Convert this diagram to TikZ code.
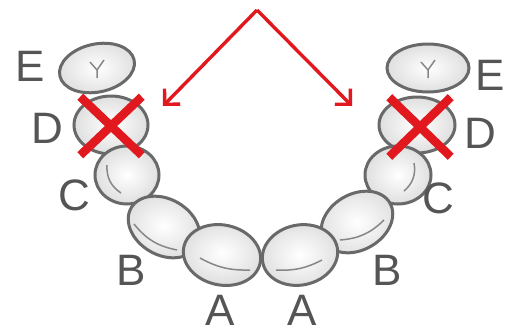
\documentclass[tikz,border=0pt]{standalone}
\usepackage{fontspec}
\setmainfont{Liberation Sans}
\usetikzlibrary{shapes.geometric,shapes.misc,arrows.meta}
\definecolor{toothline}{RGB}{105,105,105}
\definecolor{labelgray}{RGB}{85,85,85}
\definecolor{markred}{RGB}{225,25,30}
\tikzset{
  tooth/.style={ellipse,draw=toothline,line width=3pt,inner sep=0pt,shading=radial,inner color=white,outer color=gray!25},
  letter/.style={text=labelgray,font=\fontsize{44}{44}\selectfont,inner sep=0pt},
  pointer/.style={draw=markred,line width=3.4pt,-{Straight Barb[length=11pt,width=22pt]}},
  nope/.style={cross out,draw=markred,line width=8.5pt,inner sep=0pt},
  groove/.style={draw=toothline!80,line width=1.5pt}
}
\begin{document}
\begin{tikzpicture}[x=1pt,y=-1pt]
      \useasboundingbox (0,0) rectangle (506,333);

      % teeth, left half
      \begin{scope}[every node/.style={tooth}]
        \node (E1) at (97,68)   [minimum width=76,minimum height=48,rotate=12] {};
        \node (D1) at (111,125) [minimum width=74,minimum height=58] {};
        \node (C1) at (127,175) [minimum width=64,minimum height=58] {};
        \node (B1) at (164,227) [minimum width=76,minimum height=56,rotate=-30] {};
        \node (A1) at (222,255) [minimum width=78,minimum height=60,rotate=-12] {};
      \end{scope}

      % teeth, right half
      \begin{scope}[every node/.style={tooth}]
        \node (E2) at (428,68)  [minimum width=82,minimum height=48] {};
        \node (D2) at (417,125) [minimum width=76,minimum height=56] {};
        \node (C2) at (398,175) [minimum width=66,minimum height=58] {};
        \node (B2) at (357,222) [minimum width=76,minimum height=56,rotate=30] {};
        \node (A2) at (300,255) [minimum width=76,minimum height=60,rotate=12] {};
      \end{scope}

      % grooves
      \draw[groove] (107,165) to[bend right=30] (121,193);
      \draw[groove] (134,224) to[bend right=20] (177,250);
      \draw[groove] (200,258) to[bend right=15] (250,270);
      \draw[groove] (414,163) to[bend left=30] (404,191);
      \draw[groove] (340,240) to[bend right=20] (384,220);
      \draw[groove] (276,270) to[bend right=15] (322,260);
      \draw[groove] (90,62) -- (97,70) -- (104,60) (97,70) -- (97,78);
      \draw[groove] (421,62) -- (428,70) -- (435,60) (428,70) -- (428,78);

      % crosses
      \node[nope,minimum width=53,minimum height=50] (X1) at (111,126) {};
      \node[nope,minimum width=53,minimum height=51] (X2) at (420,127) {};

      % labels
      \begin{scope}[every node/.style={letter}]
        \node (lE1) at (30,66)   {E};
        \node (lD1) at (47,128)  {D};
        \node (lC1) at (74,195)  {C};
        \node (lB1) at (131,270) {B};
        \node (lA1) at (220,310) {A};
        \node (lA2) at (302,310) {A};
        \node (lB2) at (387,270) {B};
        \node (lC2) at (438,198) {C};
        \node (lD2) at (480,133) {D};
        \node (lE2) at (490,75)  {E};
      \end{scope}

      % arrows
      \coordinate (apex) at (257,10);
      \coordinate (tipL) at (163,106);
      \coordinate (tipR) at (352,106);
      \draw[pointer] (apex) -- (tipL);
      \draw[pointer] (apex) -- (tipR);

    \end{tikzpicture}
\end{document}
